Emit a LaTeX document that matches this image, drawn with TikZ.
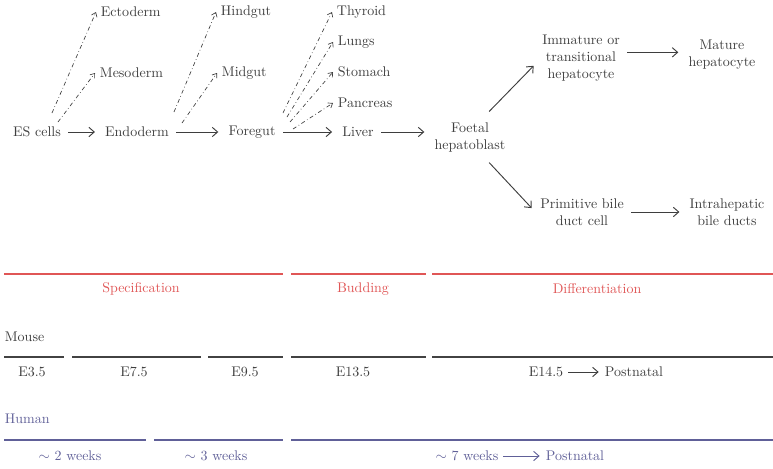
\documentclass[tikz,border=0pt]{standalone}
\usetikzlibrary{arrows.meta}

\definecolor{txtgrey}{RGB}{62,62,62}
\definecolor{barred}{RGB}{224,86,86}
\definecolor{bargrey}{RGB}{66,66,66}
\definecolor{barblue}{RGB}{96,96,152}

\begin{document}
\begin{tikzpicture}[x=0.75pt,y=-0.75pt,line width=0.7pt,
  every node/.style={font=\fontsize{10.5}{12.75}\selectfont, text=txtgrey},
  fwd/.style={draw=txtgrey, -{Straight Barb[length=4pt,width=7pt]}, shorten <=2pt, shorten >=4pt},
  side/.style={draw=txtgrey, line width=0.5pt, dash dot, -{Straight Barb[length=3pt,width=4.5pt]}},
  bar/.style={line width=1.8pt}]

\useasboundingbox (0,0) rectangle (773,468);

% ES cells -> liver lineage
\node (es)    at (37,132)  {ES cells};
\node (endo)  at (137,132) {Endoderm};
\node (fore)  at (252,132) {Foregut};
\node (liver) at (358,132) {Liver};
\node[align=center] (foetal) at (470,137) {Foetal\\hepatoblast};
\node[align=center] (immH)   at (581,58)  {Immature or\\transitional\\hepatocyte};
\node[align=center] (matH)   at (722,55)  {Mature\\hepatocyte};
\node[align=center] (bileC)  at (582,212) {Primitive bile\\duct cell};
\node[align=center] (intB)   at (727,212) {Intrahepatic\\bile ducts};

% side fates
\node[anchor=west] (ecto) at (96,12)  {Ectoderm};
\node[anchor=west] (meso) at (95,73)  {Mesoderm};
\node[anchor=west] (hind) at (216,12) {Hindgut};
\node[anchor=west] (mid)  at (217,73) {Midgut};
\node[anchor=west] (thy)  at (332,12) {Thyroid};
\node[anchor=west] (lung) at (333,42) {Lungs};
\node[anchor=west] (stom) at (333,72) {Stomach};
\node[anchor=west] (panc) at (333,103) {Pancreas};

\coordinate (es1)   at (52,113);
\coordinate (es2)   at (58,122);
\coordinate (endo1) at (174,112);
\coordinate (endo2) at (182,123);
\coordinate (fore1) at (283,113);
\coordinate (fore2) at (287,117);
\coordinate (fore3) at (290,122);
\coordinate (fore4) at (293,129);

\draw[fwd] (es) -- (endo);
\draw[fwd] (endo) -- (fore);
\draw[fwd] (fore) -- (liver);
\draw[fwd] (liver.east) -- (liver.east -| foetal.west);
\draw[fwd] ([xshift=13pt,yshift=3pt]foetal.north) -- ([yshift=-3pt]immH.west);
\draw[fwd] ([xshift=13pt,yshift=-3pt]foetal.south) -- (bileC.west);
\draw[fwd] ([yshift=2pt]immH.east |- matH) -- ([yshift=2pt]matH.west);
\draw[fwd] (bileC) -- (intB);

\draw[side] (es1) -- (ecto.west);
\draw[side] (es2) -- (meso.west);
\draw[side] (endo1) -- (hind.west);
\draw[side] (endo2) -- (mid.west);
\draw[side] (fore1) -- (thy.west);
\draw[side] (fore2) -- (lung.west);
\draw[side] (fore3) -- (stom.west);
\draw[side] (fore4) -- (panc.west);

% stages
\begin{scope}[every node/.append style={text=barred}]
  \draw[bar, barred] (4,274) -- (283,274);
  \draw[bar, barred] (291,274) -- (426,274);
  \draw[bar, barred] (432,274) -- (773,274);
  \node (spec) at (141,289) {Specification};
  \node (bud)  at (363,289) {Budding};
  \node (diff) at (597,289) {Differentiation};
\end{scope}

% mouse
\node[anchor=west] (mouse) at (0,337) {Mouse};
\draw[bar, bargrey] (4,357) -- (64,357);
\draw[bar, bargrey] (72,357) -- (201,357);
\draw[bar, bargrey] (208,357) -- (283,357);
\draw[bar, bargrey] (291,357) -- (426,357);
\draw[bar, bargrey] (432,357) -- (773,357);
\node (e35)  at (32,372)  {E3.5};
\node (e75)  at (134,372) {E7.5};
\node (e95)  at (245,372) {E9.5};
\node (e135) at (353,372) {E13.5};
\node (e145) at (546,372) {E14.5};
\node (mPost) at (634,372) {Postnatal};
\draw[fwd, shorten <=0pt, shorten >=1pt] (e145) -- (mPost);

% human
\begin{scope}[every node/.append style={text=barblue}]
  \node[anchor=west] (human) at (0,419) {Human};
  \draw[bar, barblue] (4,440) -- (146,440);
  \draw[bar, barblue] (154,440) -- (283,440);
  \draw[bar, barblue] (291,440) -- (773,440);
  \node (w2) at (70,456)  {$\sim$ 2 weeks};
  \node (w3) at (216,456) {$\sim$ 3 weeks};
  \node (w7) at (467,456) {$\sim$ 7 weeks};
  \node (hPost) at (575,456) {Postnatal};
  \draw[fwd, draw=barblue, shorten <=0pt, shorten >=1pt] (w7) -- (hPost);
\end{scope}

\end{tikzpicture}
\end{document}
